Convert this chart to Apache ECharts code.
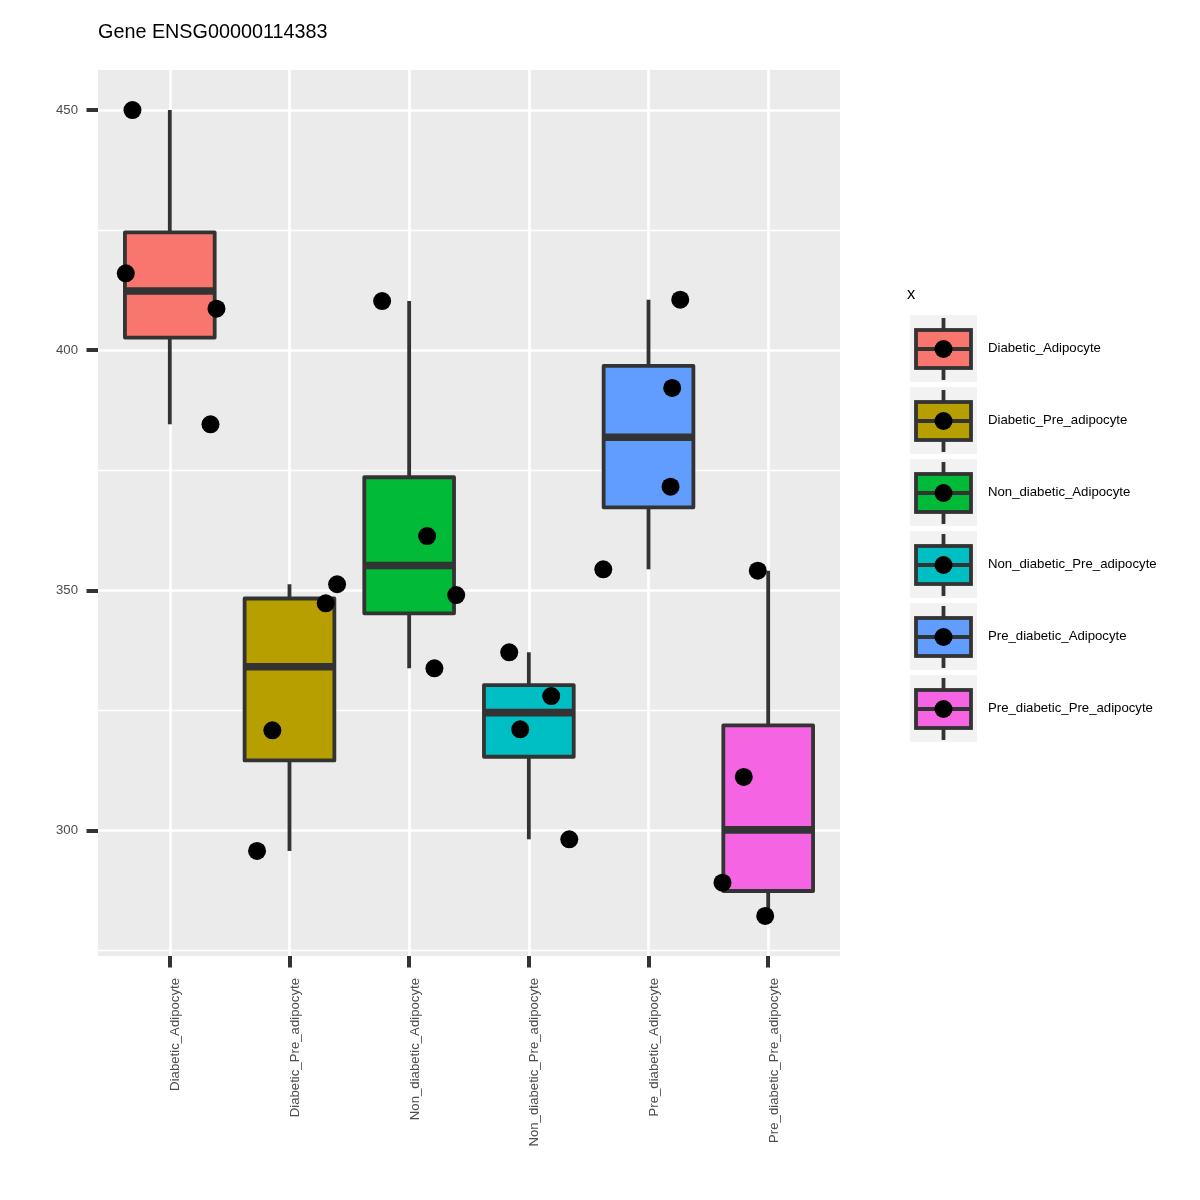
<!DOCTYPE html>
<html>
<head>
<meta charset="utf-8">
<script src="https://cdn.jsdelivr.net/npm/echarts@6/dist/echarts.min.js"></script>
<style>html,body{margin:0;padding:0;background:#fff}#c{width:1200px;height:1200px}</style>
</head>
<body>
<div id="c"></div>
<script>
const titleText = 'Gene ENSG00000114383';
const categories = ['Diabetic_Adipocyte','Diabetic_Pre_adipocyte','Non_diabetic_Adipocyte','Non_diabetic_Pre_adipocyte','Pre_diabetic_Adipocyte','Pre_diabetic_Pre_adipocyte'];
const colors = ['#F8766D','#B79F00','#00BA38','#00BFC4','#619CFF','#F564E3'];
// expression values per group (read from points)
const values = [
  [449.97, 415.99, 408.62, 384.56],
  [351.27, 347.31, 320.88, 295.76],
  [410.22, 361.31, 349.03, 333.78],
  [337.11, 328.01, 321.09, 298.19],
  [410.49, 392.12, 371.58, 354.38],
  [354.09, 311.16, 289.16, 282.23]
];
// horizontal jitter of each point (category units)
const jitter = [
  [-0.312, -0.368, 0.390, 0.340],
  [0.398, 0.303, -0.143, -0.271],
  [-0.226, 0.150, 0.393, 0.211],
  [-0.164, 0.187, -0.072, 0.338],
  [0.265, 0.198, 0.184, -0.378],
  [-0.087, -0.204, -0.382, -0.025]
];
const yMajorTicks = [300, 350, 400, 450];
const yMinorTicks = [275, 325, 375, 425];
const yMin = 273.9, yMax = 458.3;

const FONT = 'Liberation Sans, Arial, sans-serif';

function quantile(sorted, p) {
  const h = (sorted.length - 1) * p;
  const lo = Math.floor(h), hi = Math.ceil(h);
  return sorted[lo] + (h - lo) * (sorted[hi] - sorted[lo]);
}
function boxStats(arr) {
  const s = arr.slice().sort((a, b) => a - b);
  const q1 = quantile(s, 0.25), med = quantile(s, 0.5), q3 = quantile(s, 0.75);
  const iqr = q3 - q1;
  const lo = Math.min(...s.filter(v => v >= q1 - 1.5 * iqr));
  const hi = Math.max(...s.filter(v => v <= q3 + 1.5 * iqr));
  return [lo, q1, med, q3, hi];
}

function legendIcon(color) {
  const svg = '<svg xmlns="http://www.w3.org/2000/svg" width="67" height="67" viewBox="0 0 67 67">' +
    '<rect x="0" y="0" width="67" height="67" fill="#F2F2F2"/>' +
    '<line x1="33.5" y1="3" x2="33.5" y2="15" stroke="#333333" stroke-width="3.8"/>' +
    '<line x1="33.5" y1="53" x2="33.5" y2="65" stroke="#333333" stroke-width="3.8"/>' +
    '<rect x="6" y="15" width="55" height="38" fill="' + color + '" stroke="#333333" stroke-width="3.8"/>' +
    '<line x1="6" y1="34" x2="61" y2="34" stroke="#333333" stroke-width="3.8"/>' +
    '<circle cx="33.5" cy="34" r="9" fill="#000000"/>' +
    '</svg>';
  return 'image://data:image/svg+xml;charset=utf-8,' + encodeURIComponent(svg);
}

const boxSeries = categories.map((name, i) => {
  const st = boxStats(values[i]);
  return {
    name: name,
    type: 'custom',
    z: 2,
    data: [[i + 1].concat(st)],
    renderItem: function (params, api) {
      const x = api.value(0);
      const pLo = api.coord([x, api.value(1)]);
      const pQ1 = api.coord([x, api.value(2)]);
      const pMed = api.coord([x, api.value(3)]);
      const pQ3 = api.coord([x, api.value(4)]);
      const pHi = api.coord([x, api.value(5)]);
      const half = api.size([0.75, 0])[0] / 2;
      const ls = { stroke: '#333333', lineWidth: 3.8 };
      return {
        type: 'group',
        children: [
          { type: 'line', shape: { x1: pHi[0], y1: pHi[1], x2: pQ3[0], y2: pQ3[1] }, style: ls },
          { type: 'line', shape: { x1: pQ1[0], y1: pQ1[1], x2: pLo[0], y2: pLo[1] }, style: ls },
          { type: 'rect', shape: { x: pQ1[0] - half, y: pQ3[1], width: 2 * half, height: pQ1[1] - pQ3[1] },
            style: { fill: colors[i], stroke: '#333333', lineWidth: 3.8, lineJoin: 'round' } },
          { type: 'line', shape: { x1: pMed[0] - half, y1: pMed[1], x2: pMed[0] + half, y2: pMed[1] },
            style: { stroke: '#333333', lineWidth: 7.6 } }
        ]
      };
    }
  };
});

const points = [];
values.forEach((arr, i) => arr.forEach((v, j) => points.push([i + 1 + jitter[i][j], v])));

const chart = echarts.init(document.getElementById('c'), null, { renderer: 'canvas' });
chart.setOption({
  animation: false,
  backgroundColor: '#FFFFFF',
  title: [
    { text: titleText, left: 98, top: 23, padding: 0,
      textStyle: { fontFamily: FONT, fontSize: 19.8, fontWeight: 'normal', color: '#000000' } },
    { text: 'x', left: 907, top: 286, padding: 0,
      textStyle: { fontFamily: FONT, fontSize: 16.5, fontWeight: 'normal', color: '#000000' } }
  ],
  legend: {
    data: categories.map((c, i) => ({ name: c, icon: legendIcon(colors[i]) })),
    orient: 'vertical',
    left: 910, top: 315,
    padding: 0,
    itemWidth: 67, itemHeight: 67, itemGap: 5,
    selectedMode: false,
    textStyle: { fontFamily: FONT, fontSize: 13.2, color: '#000000', padding: [2, 0, 0, 6] }
  },
  grid: {
    left: 98, top: 70, width: 742, height: 886,
    show: true, backgroundColor: '#EBEBEB', borderWidth: 0,
    containLabel: false
  },
  xAxis: {
    type: 'value', min: 0.4, max: 6.6,
    axisLine: { show: false },
    axisTick: { show: true, customValues: [1, 2, 3, 4, 5, 6], length: 11.5, lineStyle: { color: '#333333', width: 4 } },
    axisLabel: {
      customValues: [1, 2, 3, 4, 5, 6], rotate: 90, margin: 22,
      verticalAlign: 'top', lineHeight: 12,
      fontFamily: FONT, fontSize: 13.2, color: '#4D4D4D',
      formatter: v => categories[Math.round(v) - 1]
    },
    splitLine: { show: true, lineStyle: { color: '#FFFFFF', width: 2.7 } }
  },
  yAxis: [
    {
      type: 'value', min: yMin, max: yMax,
      axisLine: { show: false },
      axisTick: { show: true, customValues: yMajorTicks, length: 11.5, lineStyle: { color: '#333333', width: 4 } },
      axisLabel: { customValues: yMajorTicks, margin: 20, fontFamily: FONT, fontSize: 13.2, color: '#4D4D4D' },
      splitLine: { show: true, lineStyle: { color: '#FFFFFF', width: 2.7 } }
    },
    {
      type: 'value', min: yMin, max: yMax,
      axisLine: { show: false },
      axisTick: { show: false, customValues: yMinorTicks },
      axisLabel: { show: false, customValues: yMinorTicks },
      splitLine: { show: true, lineStyle: { color: '#FFFFFF', width: 1.4 } }
    }
  ],
  series: boxSeries.concat([{
    type: 'scatter',
    name: 'points',
    z: 5,
    data: points,
    symbol: 'circle',
    symbolSize: 18,
    itemStyle: { color: '#000000', opacity: 1 }
  }])
});
</script>
</body>
</html>
